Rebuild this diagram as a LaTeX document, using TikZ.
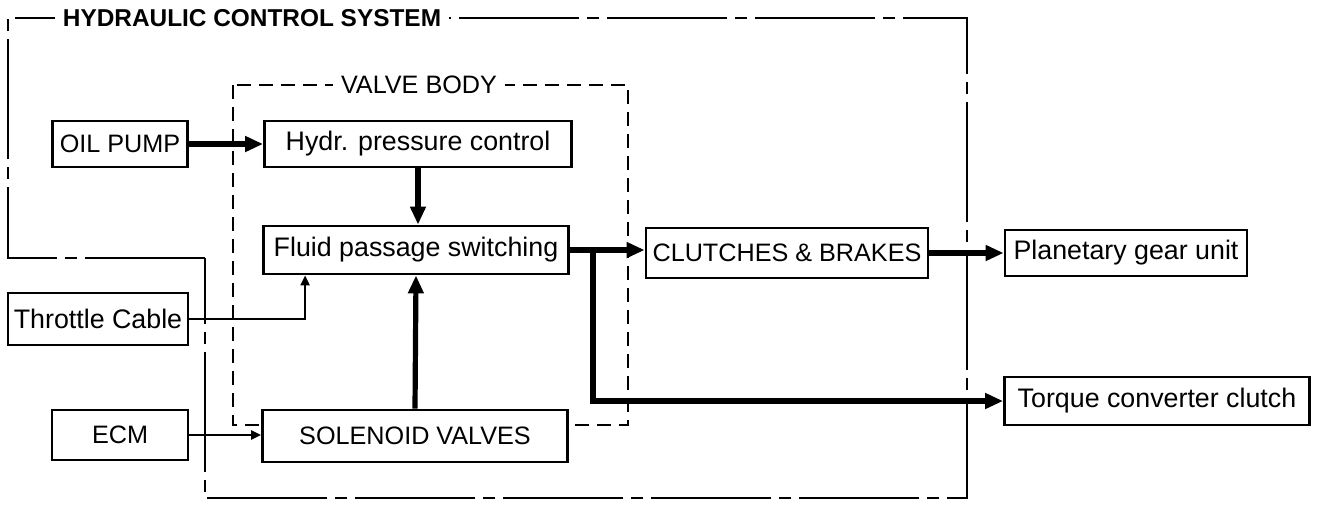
\documentclass[tikz,border=0pt]{standalone}
\usepackage{fontspec}
\setmainfont{Liberation Sans}
\usetikzlibrary{arrows.meta}

\begin{document}
\begin{tikzpicture}[x=0.5pt, y=-0.5pt,
  unit/.style={draw, line width=1.4pt, fill=white, inner sep=0pt,
    font=\fontsize{12.6}{14}\selectfont},
  lower/.style={font=\fontsize{13.4}{15}\selectfont},
  flow/.style={line width=2.6pt, -{Triangle[length=9pt,width=7.5pt]}},
  signal/.style={line width=1.1pt, -{Triangle[length=5pt,width=4.5pt]}},
  zone/.style={line width=1pt, line join=miter},
  zonetitle/.style={fill=white, inner sep=4pt}]

\useasboundingbox (0,0) rectangle (1328,510);

% Hydraulic control system (outer)
\draw[zone, dash pattern=on 60pt off 4pt on 6pt off 4pt]
  (205,258) -- (8,258) -- (8,18) -- (967,18) -- (967,498) -- (205,498) -- cycle;
\node[zonetitle, font=\bfseries\fontsize{12.2}{14}\selectfont] (hcs) at (252,18) {HYDRAULIC CONTROL SYSTEM};

% Valve body (inner)
\draw[zone, dash pattern=on 7pt off 4pt] (233,85) rectangle (628,425);
\node[zonetitle, font=\fontsize{12.6}{14}\selectfont] (vb) at (419,85) {VALVE BODY};

% Inputs
\node[unit, minimum width=67.5pt, minimum height=23pt] (oil) at (120,144) {OIL PUMP};
\node[unit, lower, minimum width=90pt, minimum height=26pt] (throttle) at (98,319) {Throttle Cable};
\node[unit, minimum width=68pt, minimum height=25pt] (ecm) at (120,435) {ECM};

% Valve body units
\node[unit, lower, minimum width=153.5pt, minimum height=23pt] (hydr) at (418,144) {Hydr. pressure control};
\node[unit, lower, minimum width=152.5pt, minimum height=24pt] (fluid) at (416,250) {Fluid passage switching};
\node[unit, minimum width=152.5pt, minimum height=26pt] (solenoid) at (415,436) {SOLENOID VALVES};

% Outputs
\node[unit, minimum width=141pt, minimum height=25pt] (clutch) at (787,253) {CLUTCHES \& BRAKES};
\node[unit, lower, minimum width=121pt, minimum height=23pt] (planet) at (1126,253) {Planetary gear unit};
\node[unit, lower, minimum width=152.5pt, minimum height=24pt] (torque) at (1157,401) {Torque converter clutch};

% Pressure flow
\draw[flow] (oil) -- (hydr);
\draw[flow] (hydr.south) -- (hydr.south |- fluid.north);
\draw[flow] (solenoid.north) -- (fluid.south);
\draw[flow] (fluid.east) -- (fluid.east -| clutch.west);
\coordinate (branch) at (593,252);
\draw[flow] (branch) |- (torque.west);
\draw[flow] (clutch.east) -- (clutch.east -| planet.west);

% Control signals
\draw[signal] (throttle.east) -| ([xshift=21.5pt]fluid.south west);
\draw[signal] (ecm.east) -- (ecm.east -| solenoid.west);

\end{tikzpicture}
\end{document}
